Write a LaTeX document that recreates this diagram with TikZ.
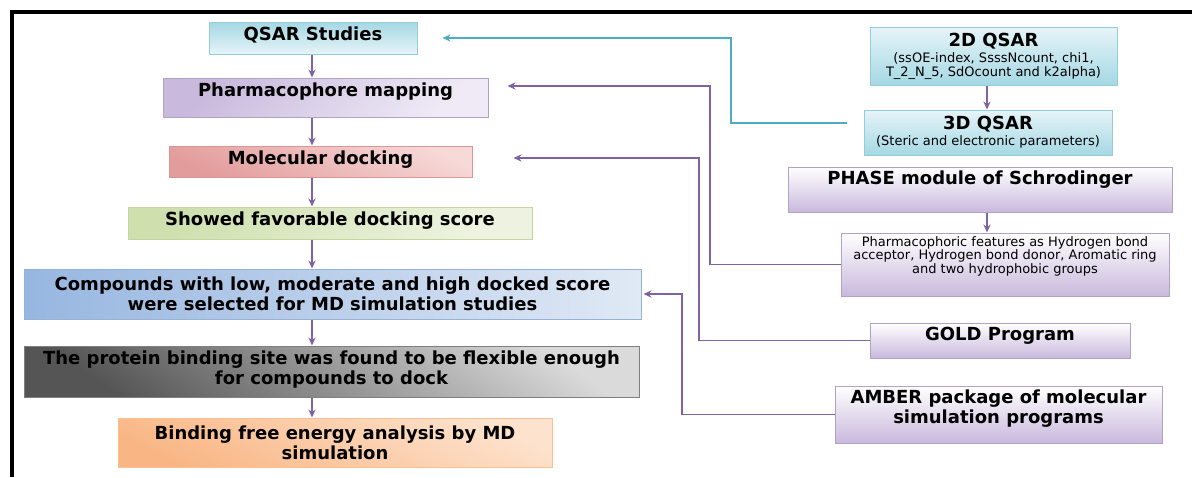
\documentclass[tikz,border=0pt]{standalone}
\usepackage{fontspec}
\setmainfont{DejaVu Sans}
\usetikzlibrary{arrows.meta,shadows}

\definecolor{flowpurple}{HTML}{8064A2}
\definecolor{flowcyan}{HTML}{4BACC6}
\definecolor{cyanedge}{HTML}{93CDDD}
\definecolor{cyandeep}{HTML}{A5D8E4}
\definecolor{cyanpale}{HTML}{E6F4F8}
\definecolor{lilacedge}{HTML}{B3A2C7}
\definecolor{lilacdeep}{HTML}{C9B9DD}
\definecolor{lilacpale}{HTML}{EFEAF6}
\definecolor{rededge}{HTML}{D99694}
\definecolor{reddeep}{HTML}{E29C9B}
\definecolor{redpale}{HTML}{F7D9D8}
\definecolor{greenedge}{HTML}{C3D69B}
\definecolor{greendeep}{HTML}{CFE0AE}
\definecolor{greenpale}{HTML}{EDF3E0}
\definecolor{blueedge}{HTML}{95B3D7}
\definecolor{bluedeep}{HTML}{97B6E0}
\definecolor{bluepale}{HTML}{E0E9F5}
\definecolor{grayedge}{HTML}{7F7F7F}
\definecolor{graydeep}{HTML}{555555}
\definecolor{graypale}{HTML}{DADADA}
\definecolor{orangeedge}{HTML}{FAC090}
\definecolor{orangedeep}{HTML}{F9B684}
\definecolor{orangepale}{HTML}{FDE3CE}

\newcommand{\bigtxt}{\fontsize{9}{9.8}\selectfont\bfseries}
\newcommand{\smalltxt}{\fontsize{6.5}{6.8}\selectfont\mdseries}
\newcommand{\liftby}[1]{\rule[-#1]{0pt}{#1}}

\begin{document}
\begin{tikzpicture}[x=0.5pt, y=-0.5pt,
        box/.style={rectangle, draw=#1, line width=0.5pt, align=center, inner sep=1pt, font=\bigtxt,
            drop shadow={shadow xshift=0.4pt, shadow yshift=-0.6pt, fill=black!50}},
        wh/.style 2 args={minimum width=#1*0.5pt, minimum height=#2*0.5pt},
        flow/.style={draw=flowpurple, line width=0.85pt, -{Stealth[length=4pt, width=3.6pt]}}]
        \useasboundingbox (0,0) rectangle (1192,477);
        \draw[line width=1.6pt] (12,477) |- (1192,12);

        \node[box=cyanedge, wh={208}{32}, top color=cyandeep, bottom color=cyanpale] (qsar) at (313,38) {QSAR Studies\liftby{4pt}};
        \node[box=lilacedge, wh={325}{39}, top color=lilacdeep, bottom color=lilacpale, shading angle=45] (pharm) at (325.5,97.5) {Pharmacophore mapping\liftby{7.5pt}};
        \node[box=rededge, wh={303}{31}, top color=redpale, bottom color=reddeep, shading angle=-25] (dock) at (320.5,161.5) {Molecular docking\liftby{3.6pt}};
        \node[box=greenedge, wh={404}{32}, top color=greendeep, bottom color=greenpale, shading angle=45] (score) at (330,223) {Showed favorable docking score\liftby{4pt}};
        \node[box=blueedge, wh={617}{50}, left color=bluedeep, right color=bluepale] (cmpd) at (332.5,294) {Compounds with low, moderate and high docked score\\were selected for MD simulation studies};
        \node[box=grayedge, wh={615}{51}, top color=graypale, bottom color=graydeep, shading angle=-35] (site) at (331.5,371.5) {The protein binding site was found to be flexible enough\\for compounds to dock\liftby{4pt}};
        \node[box=orangeedge, wh={434}{49}, top color=orangepale, bottom color=orangedeep, shading angle=-25] (bfe) at (335,442.5) {Binding free energy analysis by MD\\simulation};

        \node[box=cyanedge, wh={247}{58}, top color=cyanpale, bottom color=cyandeep, font=\smalltxt] (qsar2d) at (993.5,56) {{\bigtxt 2D QSAR}\\[1.5pt](ssOE-index, SsssNcount, chi1,\\T\_2\_N\_5, SdOcount and k2alpha)};
        \node[box=cyanedge, wh={248}{45}, top color=cyanpale, bottom color=cyandeep, font=\smalltxt] (qsar3d) at (988,132.5) {{\bigtxt 3D QSAR}\\[1.2pt](Steric and electronic parameters)};
        \node[box=lilacedge, wh={384}{45}, top color=white, bottom color=lilacdeep] (phase) at (980,189.5) {PHASE module of Schrodinger\liftby{11.6pt}};
        \node[box=lilacedge, wh={328}{63}, top color=white, bottom color=lilacdeep, font=\smalltxt] (feat) at (1005,264.5) {Pharmacophoric features as Hydrogen bond\\acceptor, Hydrogen bond donor, Aromatic ring\\and two hydrophobic groups\liftby{9.5pt}};
        \node[box=lilacedge, wh={260}{35}, top color=white, bottom color=lilacdeep] (gold) at (1000,340.5) {GOLD Program\liftby{6.6pt}};
        \node[box=lilacedge, wh={327}{57}, top color=white, bottom color=lilacdeep] (amber) at (998.5,414.5) {AMBER package of molecular\\simulation programs\liftby{7.6pt}};

        \coordinate (lspine) at (312,0);
        \coordinate (rspine) at (987,0);
        \draw[flow] (qsar.south -| lspine) -- (pharm.north -| lspine);
        \draw[flow] (pharm.south -| lspine) -- (dock.north -| lspine);
        \draw[flow] (dock.south -| lspine) -- (score.north -| lspine);
        \draw[flow] (score.south -| lspine) -- (cmpd.north -| lspine);
        \draw[flow] (cmpd.south -| lspine) -- (site.north -| lspine);
        \draw[flow] (site.south -| lspine) -- (bfe.north -| lspine);
        \draw[flow] (qsar2d.south -| rspine) -- (qsar3d.north -| rspine);
        \draw[flow] (phase.south -| rspine) -- (feat.north -| rspine);

        \coordinate (qturn) at (731,80);
        \coordinate (pturn) at (710,200);
        \coordinate (dturn) at (699,250);
        \coordinate (cturn) at (682,350);
        \draw[flow, draw=flowcyan, shorten <=8.5pt, shorten >=12.5pt] ([yshift=4.75pt]qsar3d.west) -| (qturn) |- (qsar.east);
        \draw[flow, shorten >=9.5pt] (feat.west) -| (pturn) |- ([yshift=5.75pt]pharm.east);
        \draw[flow, shorten >=20.5pt] (gold.west) -| (dturn) |- ([yshift=1.75pt]dock.east);
        \draw[flow, shorten >=1pt] (amber.west) -| (cturn) |- (cmpd.east);
    \end{tikzpicture}
\end{document}
